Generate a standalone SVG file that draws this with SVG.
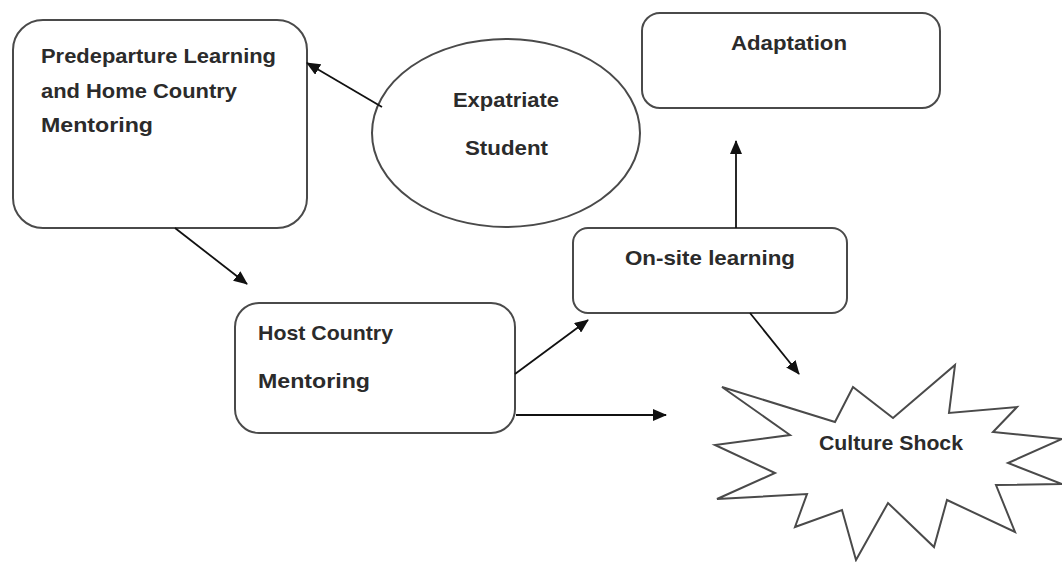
<svg xmlns="http://www.w3.org/2000/svg" width="1062" height="562" viewBox="0 0 1062 562">
  <style>
    .shape { fill: #ffffff; stroke: #4a4a4a; stroke-width: 2; }
    .lbl { font-family: "Liberation Sans", Arial, sans-serif; font-weight: bold; font-size: 21px; fill: #2b2b2b; }
    .conn { fill: none; stroke: #111111; stroke-width: 1.8; marker-end: url(#arrow); }
  </style>
  <defs>
    <marker id="arrow" markerUnits="userSpaceOnUse" markerWidth="14" markerHeight="12" refX="13" refY="6" orient="auto">
      <path d="M0,0 L14,6 L0,12 Z" fill="#111111"/>
    </marker>
  </defs>
  <rect width="1062" height="562" fill="#ffffff"/>

  <g id="predeparture">
    <rect class="shape" x="13" y="20" width="294" height="208" rx="30" ry="30"/>
    <text class="lbl" x="41" y="63" textLength="235" lengthAdjust="spacingAndGlyphs">Predeparture Learning</text>
    <text class="lbl" x="41" y="98" textLength="196" lengthAdjust="spacingAndGlyphs">and Home Country</text>
    <text class="lbl" x="41" y="132" textLength="112" lengthAdjust="spacingAndGlyphs">Mentoring</text>
  </g>

  <g id="expatriate">
    <ellipse class="shape" cx="506" cy="133" rx="134" ry="94"/>
    <text class="lbl" x="453" y="107" textLength="106" lengthAdjust="spacingAndGlyphs">Expatriate</text>
    <text class="lbl" x="465" y="155" textLength="83" lengthAdjust="spacingAndGlyphs">Student</text>
  </g>

  <g id="adaptation">
    <rect class="shape" x="642" y="13" width="298" height="95" rx="18" ry="18"/>
    <text class="lbl" x="731" y="50" textLength="116" lengthAdjust="spacingAndGlyphs">Adaptation</text>
  </g>

  <g id="onsite">
    <rect class="shape" x="573" y="228" width="274" height="85" rx="15" ry="15"/>
    <text class="lbl" x="625" y="265" textLength="170" lengthAdjust="spacingAndGlyphs">On-site learning</text>
  </g>

  <g id="host">
    <rect class="shape" x="235" y="303" width="280" height="130" rx="24" ry="24"/>
    <text class="lbl" x="258" y="340" textLength="135" lengthAdjust="spacingAndGlyphs">Host Country</text>
    <text class="lbl" x="258" y="388" textLength="112" lengthAdjust="spacingAndGlyphs">Mentoring</text>
  </g>

  <g id="cultureshock">
    <polygon class="shape" points="722,387 835,422 853,387 893,418 955,365 949,413 1017,407 993,432 1062,439 1008,463 1062,484 996,485 1015,532 947,500 934,547 888,503 856,560 842,510 795,527 807,494 717,499 775,473 715,445 790,435"/>
    <text class="lbl" x="819" y="450" textLength="144" lengthAdjust="spacingAndGlyphs">Culture Shock</text>
  </g>

  <g id="connectors">
    <line class="conn" x1="382" y1="107" x2="307" y2="63"/>
    <line class="conn" x1="175" y1="228" x2="247" y2="284"/>
    <line class="conn" x1="515" y1="374" x2="588" y2="320"/>
    <line class="conn" x1="516" y1="415" x2="666" y2="415"/>
    <line class="conn" x1="736" y1="228" x2="736" y2="141"/>
    <line class="conn" x1="750" y1="313" x2="799" y2="374"/>
  </g>
</svg>
